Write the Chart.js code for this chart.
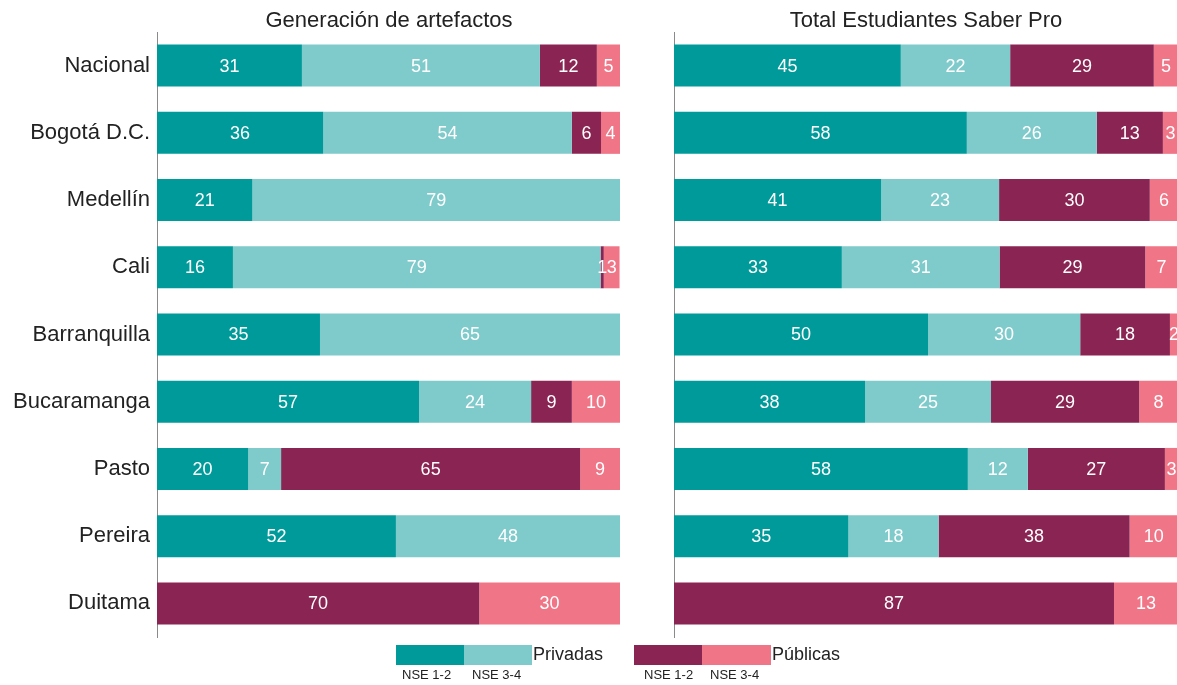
<!DOCTYPE html>
<html>
<head>
<meta charset="utf-8">
<script src="https://cdn.jsdelivr.net/npm/chart.js@4"></script>
<style>
  html, body { margin: 0; padding: 0; background: #fff; overflow: hidden; }
  body { width: 1177px; height: 685px; position: relative; font-family: "Liberation Sans", Arial, sans-serif; color: #222; }
  .panel { position: absolute; top: 0; height: 645px; }
  .swatch { position: absolute; height: 20px; top: 645px; }
  .leg { position: absolute; font-size: 18px; top: 644px; }
  .nse { position: absolute; font-size: 13px; top: 667px; }
</style>
</head>
<body>
<div class="panel" style="left:0;width:778px"><canvas id="left"></canvas></div>
<div class="panel" style="left:650px;width:552px"><canvas id="right"></canvas></div>

<div class="swatch" style="left:396px;width:68px;background:#009a9a"></div>
<div class="swatch" style="left:464px;width:68px;background:#7fcacb"></div>
<div class="leg" style="left:533px">Privadas</div>
<div class="swatch" style="left:634px;width:68px;background:#8a2452"></div>
<div class="swatch" style="left:702px;width:69px;background:#ef7587"></div>
<div class="leg" style="left:772px">Públicas</div>
<div class="nse" style="left:402px">NSE 1-2</div>
<div class="nse" style="left:472px">NSE 3-4</div>
<div class="nse" style="left:644px">NSE 1-2</div>
<div class="nse" style="left:710px">NSE 3-4</div>

<script>
const categories = ["Nacional", "Bogotá D.C.", "Medellín", "Cali", "Barranquilla", "Bucaramanga", "Pasto", "Pereira", "Duitama"];

// Generación de artefactos
const artPrivadas12 = [31.3, 35.9, 20.6, 16.4, 35.2, 56.6, 19.7, 51.6, 0];
const artPrivadas34 = [51.4, 53.7, 79.4, 79.4, 64.8, 24.2, 7.1, 48.4, 0];
const artPublicas12 = [12.3, 6.3, 0, 0.7, 0, 8.8, 64.6, 0, 69.6];
const artPublicas34 = [5.0, 4.1, 0, 3.4, 0, 10.4, 8.6, 0, 30.4];

// Total Estudiantes Saber Pro
const totPrivadas12 = [45.0, 58.1, 41.1, 33.3, 50.4, 37.9, 58.3, 34.6, 0];
const totPrivadas34 = [21.7, 25.8, 23.4, 31.3, 30.2, 25.0, 11.9, 17.9, 0];
const totPublicas12 = [28.5, 13.1, 29.9, 28.9, 17.8, 29.4, 27.2, 37.9, 87.3];
const totPublicas34 = [4.8, 3.0, 5.6, 6.5, 1.6, 7.7, 2.6, 9.6, 12.7];

const colors = ["#009a9a", "#7fcacb", "#8a2452", "#ef7587"];
const seriesNames = ["Privadas NSE 1-2", "Privadas NSE 3-4", "Públicas NSE 1-2", "Públicas NSE 3-4"];
const fontFamily = '"Liberation Sans", Arial, sans-serif';

const barLabels = {
  id: "barLabels",
  afterDatasetsDraw(chart) {
    const ctx = chart.ctx;
    ctx.save();
    ctx.font = "18px " + fontFamily;
    ctx.fillStyle = "#ffffff";
    ctx.textAlign = "center";
    ctx.textBaseline = "middle";
    chart.data.datasets.forEach((ds, i) => {
      chart.getDatasetMeta(i).data.forEach((bar, j) => {
        const v = Math.round(ds.data[j]);
        if (!v) return;
        const p = bar.getCenterPoint();
        ctx.fillText(String(v), p.x, p.y + 1);
      });
    });
    ctx.restore();
  }
};

function makeChart(id, title, series, showLabels, yWidth, spareWidth) {
  return new Chart(document.getElementById(id), {
    type: "bar",
    data: {
      labels: categories,
      datasets: series.map((d, i) => ({
        label: seriesNames[i],
        data: d,
        yAxisID: "y",
        backgroundColor: colors[i],
        borderWidth: 0,
        barPercentage: 1,
        categoryPercentage: 0.625
      }))
    },
    options: {
      indexAxis: "y",
      responsive: true,
      maintainAspectRatio: false,
      animation: false,
      layout: { padding: { left: 0, right: 0, top: 0, bottom: 8 } },
      plugins: {
        legend: { display: false },
        tooltip: { enabled: false },
        title: {
          display: true,
          text: title,
          color: "#222",
          font: { family: fontFamily, size: 22, weight: "normal", lineHeight: 1 },
          padding: { top: 10, bottom: 0 }
        }
      },
      scales: {
        x: { stacked: true, min: 0, max: 100, display: false },
        y: {
          stacked: true,
          grid: { display: false, drawTicks: false },
          border: { display: true, color: "#8a8a8a", width: 1 },
          ticks: {
            display: showLabels,
            color: "#222",
            padding: 7,
            font: { family: fontFamily, size: 22 }
          },
          afterFit(scale) {
            scale.width = yWidth;
            scale.paddingTop = 0;
            scale.paddingBottom = 0;
          }
        },
        spare: {
          type: "category",
          axis: "y",
          position: "right",
          grid: { display: false, drawTicks: false },
          border: { display: false },
          ticks: { display: false },
          afterFit(scale) {
            scale.width = spareWidth;
            scale.paddingTop = 0;
            scale.paddingBottom = 0;
          }
        }
      }
    },
    plugins: [barLabels]
  });
}

makeChart("left", "Generación de artefactos",
  [artPrivadas12, artPrivadas34, artPublicas12, artPublicas34],
  true, 157, 158);

makeChart("right", "Total Estudiantes Saber Pro",
  [totPrivadas12, totPrivadas34, totPublicas12, totPublicas34],
  false, 24, 24);
</script>
</body>
</html>
